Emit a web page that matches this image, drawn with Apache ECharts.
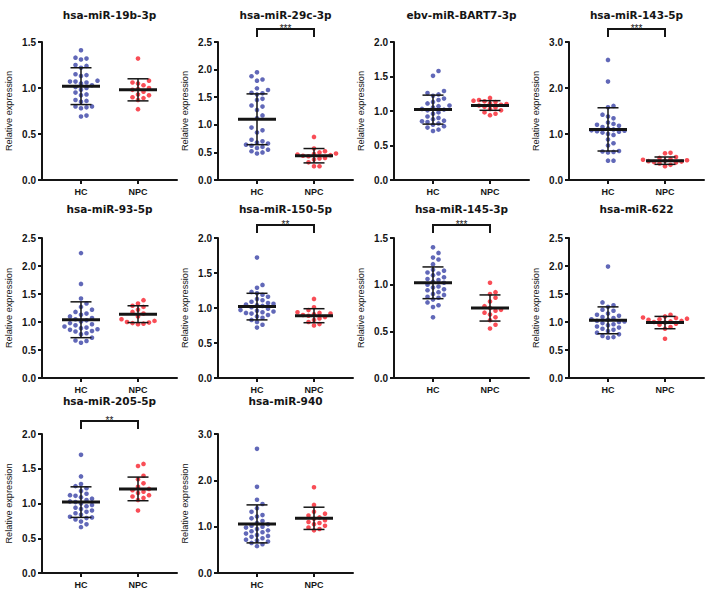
<!DOCTYPE html>
<html><head><meta charset="utf-8">
<script src="https://cdn.jsdelivr.net/npm/echarts@6/dist/echarts.min.js"></script>
<style>html,body{margin:0;padding:0;background:#fff}#c{width:709px;height:591px}</style>
</head><body><div id="c"></div>
<script>
// ---------- data ----------
const groups = ['HC', 'NPC'];
const titles = ['hsa-miR-19b-3p','hsa-miR-29c-3p','ebv-miR-BART7-3p','hsa-miR-143-5p',
                'hsa-miR-93-5p','hsa-miR-150-5p','hsa-miR-145-3p','hsa-miR-622',
                'hsa-miR-205-5p','hsa-miR-940'];
const yMax      = [1.5, 2.5, 2.0, 3.0, 2.5, 2.0, 1.5, 2.5, 2.0, 3.0];
const yInterval = [0.5, 0.5, 0.5, 1.0, 0.5, 0.5, 0.5, 0.5, 0.5, 1.0];
const significance = ['', '***', '', '***', '', '**', '***', '', '**', ''];

const hc19b  = [1.41,1.33,1.32,1.31,1.25,1.24,1.22,1.15,1.14,1.13,1.08,1.07,1.07,1.06,1.05,1.03,1.01,1.0,0.98,0.95,0.93,0.92,0.87,0.86,0.85,0.80,0.80,0.79,0.78,0.70,0.69];
const npc19b = [1.32,1.08,1.06,1.05,1.03,1.0,0.99,0.98,0.96,0.93,0.92,0.90,0.89,0.87,0.77];
const hc29c  = [1.95,1.88,1.82,1.80,1.66,1.63,1.58,1.57,1.55,1.47,1.45,1.35,1.33,1.27,1.17,1.12,0.95,0.90,0.86,0.73,0.70,0.68,0.66,0.64,0.62,0.60,0.58,0.55,0.52,0.50,0.48];
const npc29c = [0.78,0.57,0.52,0.50,0.48,0.47,0.46,0.45,0.44,0.43,0.40,0.39,0.37,0.32,0.25,0.25];
const hcBART7  = [1.58,1.51,1.29,1.26,1.24,1.22,1.18,1.16,1.13,1.11,1.08,1.07,1.05,1.03,1.02,1.01,0.98,0.96,0.92,0.90,0.88,0.86,0.85,0.84,0.82,0.80,0.78,0.76,0.73,0.71];
const npcBART7 = [1.19,1.16,1.15,1.14,1.13,1.11,1.10,1.09,1.08,1.06,1.05,1.03,1.01,0.98,0.96,0.94];
const hc143  = [2.61,2.14,1.61,1.58,1.42,1.38,1.34,1.25,1.22,1.20,1.18,1.15,1.12,1.10,1.08,1.07,1.06,1.05,1.03,1.00,0.98,0.88,0.80,0.75,0.63,0.62,0.61,0.60,0.42,0.42];
const npc143 = [0.59,0.58,0.50,0.48,0.45,0.44,0.43,0.42,0.41,0.40,0.39,0.38,0.36,0.33,0.30];
const hc93   = [2.23,1.68,1.42,1.33,1.27,1.22,1.18,1.15,1.13,1.10,1.07,1.05,1.03,1.01,0.98,0.96,0.94,0.92,0.90,0.89,0.87,0.86,0.84,0.83,0.80,0.78,0.72,0.67,0.66,0.63];
const npc93  = [1.39,1.33,1.29,1.27,1.22,1.18,1.15,1.10,1.05,1.02,1.00,0.99,0.98,0.97,0.96];
const hc150  = [1.72,1.33,1.29,1.23,1.21,1.19,1.16,1.13,1.11,1.09,1.07,1.06,1.05,1.04,1.03,1.01,0.99,0.97,0.96,0.95,0.94,0.93,0.92,0.90,0.88,0.86,0.83,0.80,0.76,0.72];
const npc150 = [1.13,1.01,0.97,0.94,0.93,0.92,0.91,0.90,0.89,0.87,0.85,0.83,0.80,0.77,0.75];
const hc145  = [1.40,1.34,1.29,1.27,1.22,1.16,1.15,1.13,1.12,1.10,1.08,1.06,1.05,1.03,1.02,1.00,0.98,0.97,0.95,0.94,0.92,0.90,0.89,0.87,0.86,0.84,0.81,0.78,0.76,0.65];
const npc145 = [1.02,0.92,0.90,0.86,0.82,0.77,0.75,0.73,0.72,0.70,0.68,0.65,0.62,0.57,0.53];
const hc622  = [1.99,1.35,1.30,1.27,1.22,1.20,1.15,1.13,1.11,1.09,1.07,1.05,1.04,1.02,1.01,1.00,0.98,0.96,0.94,0.92,0.90,0.88,0.86,0.84,0.81,0.78,0.75,0.73,0.72];
const npc622 = [1.13,1.10,1.08,1.07,1.06,1.05,1.04,1.02,1.01,1.00,0.99,0.97,0.95,0.91,0.88,0.70];
const hc205  = [1.70,1.39,1.28,1.25,1.22,1.18,1.14,1.12,1.11,1.09,1.07,1.05,1.03,1.02,1.00,0.98,0.96,0.94,0.92,0.90,0.88,0.86,0.84,0.81,0.80,0.79,0.77,0.74,0.70,0.66];
const npc205 = [1.57,1.54,1.40,1.35,1.29,1.24,1.21,1.19,1.17,1.15,1.12,1.10,1.08,1.05,0.90];
const hc940  = [2.68,1.86,1.58,1.49,1.40,1.32,1.25,1.22,1.18,1.12,1.08,1.05,1.02,1.00,0.98,0.95,0.92,0.90,0.88,0.85,0.82,0.80,0.78,0.75,0.72,0.70,0.68,0.65,0.62,0.58];
const npc940 = [1.85,1.47,1.32,1.28,1.24,1.20,1.17,1.14,1.10,1.08,1.05,1.02,0.98,0.95,0.92];

// mean and SD
const hcMean  = [1.02, 1.10, 1.02, 1.10, 1.04, 1.02, 1.02, 1.03, 1.02, 1.06];
const hcSD    = [0.20, 0.46, 0.21, 0.47, 0.32, 0.19, 0.17, 0.24, 0.22, 0.41];
const npcMean = [0.98, 0.44, 1.08, 0.42, 1.14, 0.89, 0.75, 0.99, 1.21, 1.18];
const npcSD   = [0.12, 0.13, 0.07, 0.08, 0.15, 0.10, 0.14, 0.11, 0.17, 0.24];

const hcSets  = [hc19b, hc29c, hcBART7, hc143, hc93, hc150, hc145, hc622, hc205, hc940];
const npcSets = [npc19b, npc29c, npcBART7, npc143, npc93, npc150, npc145, npc622, npc205, npc940];

// ---------- layout ----------
const colLeft = [42, 218, 394, 569];
const rowTop = [42, 238, 434];
const rowHeight = [138, 140, 139];
const rowTitleTop = [9, 203, 395];
const gridWidth = 135;
const catSpacing = 57;             // px between HC and NPC
const edgePad = 39;                // px from axis to first category
const xMin = 1 - edgePad / catSpacing, xMax = 2 + edgePad / catSpacing;
const BLUE = '#3a42a6', RED = '#f7202c', INK = '#151515';
const FONT = 'Liberation Sans, Arial, sans-serif';
const TFONT = 'DejaVu Sans, Liberation Sans, sans-serif';
const DOT = 4.6;

// simple beeswarm: spread overlapping dots horizontally (in px, converted to axis units)
function swarm(values, center, pxPerUnit) {
  const placed = [];
  const sorted = values.slice().sort((a, b) => a - b);
  const out = [];
  const step = DOT + 0.9;
  for (const v of sorted) {
    const py = v * pxPerUnit;
    let chosen = 0;
    for (let k = 0; k < 20; k++) {
      const off = k === 0 ? 0 : (k % 2 ? 1 : -1) * Math.ceil(k / 2) * step;
      const ok = placed.every(p => Math.hypot(p[0] - off, p[1] - py) >= step);
      if (ok) { chosen = off; break; }
    }
    placed.push([chosen, py]);
    out.push([center + chosen / catSpacing, v]);
  }
  return out;
}

const grids = [], xAxes = [], yAxes = [], series = [], titleList = [];
for (let i = 0; i < 10; i++) {
  const r = Math.floor(i / 4), c = i % 4;
  grids.push({ left: colLeft[c], top: rowTop[r], width: gridWidth, height: rowHeight[r], containLabel: false });
  titleList.push({
    text: titles[i], left: colLeft[c] + gridWidth / 2, top: rowTitleTop[r], textAlign: 'center', padding: 0,
    textStyle: { fontFamily: TFONT, fontSize: 10.5, fontWeight: 'bold', color: INK }
  });
  xAxes.push({
    gridIndex: i, type: 'value', min: xMin, max: xMax,
    axisLine: { show: true, lineStyle: { color: INK, width: 2 } },
    axisTick: { show: true, customValues: [1, 2], length: 4, lineStyle: { color: INK, width: 2 } },
    axisLabel: { show: true, customValues: [1, 2], formatter: v => groups[Math.round(v) - 1],
                 fontFamily: FONT, fontSize: 9, fontWeight: 'bold', color: INK, margin: 7 },
    splitLine: { show: false }
  });
  yAxes.push({
    gridIndex: i, type: 'value', min: 0, max: yMax[i], interval: yInterval[i],
    name: 'Relative expression', nameLocation: 'middle', nameGap: 29,
    nameTextStyle: { fontFamily: FONT, fontSize: 9.2, color: INK },
    axisLine: { show: true, lineStyle: { color: INK, width: 2 } },
    axisTick: { show: true, length: 4, lineStyle: { color: INK, width: 2 } },
    axisLabel: { formatter: v => v.toFixed(1), fontFamily: FONT, fontSize: 10, fontWeight: 'bold', color: INK, margin: 6 },
    splitLine: { show: false }
  });
  const ppu = rowHeight[r] / yMax[i];
  series.push({
    type: 'scatter', xAxisIndex: i, yAxisIndex: i, symbolSize: DOT, silent: true,
    itemStyle: { color: BLUE }, data: swarm(hcSets[i], 1, ppu), z: 2
  });
  series.push({
    type: 'scatter', xAxisIndex: i, yAxisIndex: i, symbolSize: DOT, silent: true,
    itemStyle: { color: RED }, data: swarm(npcSets[i], 2, ppu), z: 2
  });
  // mean ± SD bars
  series.push({
    type: 'custom', xAxisIndex: i, yAxisIndex: i, z: 5, silent: true, clip: false,
    data: [[1, hcMean[i], hcSD[i]], [2, npcMean[i], npcSD[i]]],
    renderItem: (params, api) => {
      const x = api.value(0), m = api.value(1), s = api.value(2);
      const pm = api.coord([x, m]), pt = api.coord([x, m + s]), pb = api.coord([x, m - s]);
      const ls = w => ({ stroke: INK, lineWidth: w });
      return { type: 'group', children: [
        { type: 'line', shape: { x1: pt[0], y1: pt[1], x2: pb[0], y2: pb[1] }, style: ls(1.5) },
        { type: 'line', shape: { x1: pt[0] - 10.5, y1: pt[1], x2: pt[0] + 10.5, y2: pt[1] }, style: ls(1.5) },
        { type: 'line', shape: { x1: pb[0] - 10.5, y1: pb[1], x2: pb[0] + 10.5, y2: pb[1] }, style: ls(1.5) },
        { type: 'line', shape: { x1: pm[0] - 19, y1: pm[1], x2: pm[0] + 19, y2: pm[1] }, style: ls(3) }
      ]};
    }
  });
  if (significance[i]) {
    const ym = yMax[i], label = significance[i];
    series.push({
      type: 'custom', xAxisIndex: i, yAxisIndex: i, z: 5, silent: true, clip: false,
      data: [[1, 2]],
      renderItem: (params, api) => {
        const p1 = api.coord([api.value(0), ym]), p2 = api.coord([api.value(1), ym]);
        const y0 = p1[1] - 13;
        return { type: 'group', children: [
          { type: 'polyline', shape: { points: [[p1[0], y0 + 8], [p1[0], y0], [p2[0], y0], [p2[0], y0 + 8]] },
            style: { stroke: INK, lineWidth: 2, fill: null } },
          { type: 'text', x: (p1[0] + p2[0]) / 2, y: y0 - 0.5,
            style: { text: label, fontFamily: FONT, fontSize: 10, fill: INK, align: 'center', verticalAlign: 'middle' } }
        ]};
      }
    });
  }
}

const chart = echarts.init(document.getElementById('c'), null, { renderer: 'svg' });
chart.setOption({
  animation: false, backgroundColor: '#fff',
  title: titleList, grid: grids, xAxis: xAxes, yAxis: yAxes, series: series
});
</script></body></html>
